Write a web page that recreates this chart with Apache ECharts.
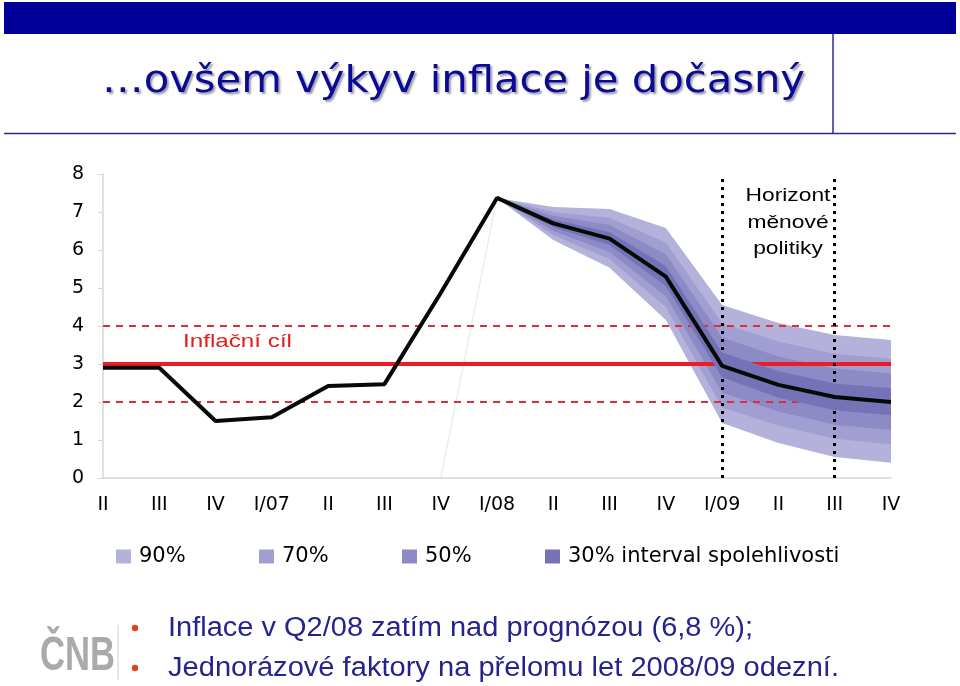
<!DOCTYPE html>
<html><head><meta charset="utf-8">
<script src="https://cdn.jsdelivr.net/npm/echarts@6/dist/echarts.min.js"></script>
<style>html,body{margin:0;padding:0;background:#fff}#c{width:960px;height:686px}</style>
</head><body><div id="c"></div>
<script>
// ---- data ----
const categories = ['II','III','IV','I/07','II','III','IV','I/08','II','III','IV','I/09','II','III','IV'];
const inflation  = [2.9, 2.9, 1.5, 1.6, 2.42, 2.47, 4.87, 7.37, 6.7, 6.3, 5.3, 2.95, 2.45, 2.13, 2.0];
const upper90 = [null,null,null,null,null,null,null, 7.37, 7.13, 7.08, 6.58, 4.55, 4.08, 3.76, 3.63];
const upper70 = [null,null,null,null,null,null,null, 7.37, 7.00, 6.85, 6.20, 4.07, 3.59, 3.27, 3.14];
const upper50 = [null,null,null,null,null,null,null, 7.37, 6.90, 6.66, 5.89, 3.70, 3.20, 2.88, 2.75];
const upper30 = [null,null,null,null,null,null,null, 7.37, 6.80, 6.47, 5.58, 3.30, 2.81, 2.49, 2.36];
const lower30 = [null,null,null,null,null,null,null, 7.37, 6.60, 6.13, 5.05, 2.65, 2.11, 1.78, 1.65];
const lower50 = [null,null,null,null,null,null,null, 7.37, 6.50, 5.95, 4.78, 2.25, 1.75, 1.40, 1.26];
const lower70 = [null,null,null,null,null,null,null, 7.37, 6.39, 5.76, 4.50, 1.85, 1.38, 1.03, 0.88];
const lower90 = [null,null,null,null,null,null,null, 7.37, 6.26, 5.53, 4.16, 1.45, 0.92, 0.55, 0.40];
const strayLine = [null,null,null,null,null,null, 0, 7.37, null,null,null,null,null,null,null];
const targetValue = 3;
const toleranceBand = [2, 4];
const horizonIdx = [11, 13];
const bandNames = ['90%', '70%', '50%', '30% interval spolehlivosti'];
const yMin = 0, yMax = 8, yStep = 1;
const titleText = '…ovšem výkyv inflace je dočasný';
const bullets = ['Inflace v Q2/08 zatím nad prognózou (6,8 %);', 'Jednorázové faktory na přelomu let 2008/09 odezní.'];
const horizonLabel = ['Horizont', 'měnové', 'politiky'];
const targetLabel = 'Inflační cíl';

// ---- helpers ----
const mctx = document.createElement('canvas').getContext('2d');
function fit(text, font, w) { mctx.font = font; return w / mctx.measureText(text).width; }
function diff(a, b) { return a.map((v, i) => (v == null || b[i] == null) ? null : +(v - b[i]).toFixed(3)); }

const bandColors = ['#b4b2db', '#a19fd2', '#8d8ac6', '#7672b7'];
const bands = [[lower90, upper90], [lower70, upper70], [lower50, upper50], [lower30, upper30]];

const series = [];
bands.forEach((b, k) => {
  series.push({
    name: 'base' + k, type: 'line', stack: 'band' + k, data: b[0], symbol: 'none', silent: true,
    lineStyle: { opacity: 0, width: 0 }, z: 2 + k
  });
  series.push({
    name: bandNames[k], type: 'line', stack: 'band' + k, data: diff(b[1], b[0]), symbol: 'none', silent: true,
    lineStyle: { opacity: 0, width: 0 }, itemStyle: { color: bandColors[k] },
    areaStyle: { color: bandColors[k], opacity: 1 }, z: 2 + k
  });
});
series.push({
  name: 'stray', type: 'line', data: strayLine, symbol: 'none', silent: true,
  lineStyle: { color: '#e4e4e4', width: 1 }, z: 1
});
series.push({
  name: 'refs', type: 'line', data: [], symbol: 'none', silent: true, z: 8,
  markLine: {
    symbol: 'none', silent: true, label: { show: false }, animation: false,
    data: [
      { yAxis: targetValue, lineStyle: { color: '#ec1c24', width: 4, type: 'solid' } },
      { yAxis: toleranceBand[0], lineStyle: { color: '#d9303c', width: 2, type: [7, 6] } },
      { yAxis: toleranceBand[1], lineStyle: { color: '#d9303c', width: 2, type: [7, 6] } },
      { xAxis: horizonIdx[0], lineStyle: { color: '#000', width: 3, type: [3, 5] } },
      { xAxis: horizonIdx[1], lineStyle: { color: '#000', width: 3, type: [3, 5] } }
    ]
  }
});
series.push({
  name: 'inflace', type: 'line', data: inflation, symbol: 'none', silent: true,
  lineStyle: { color: '#050a05', width: 4 }, z: 10
});

const legends = bandNames.map((n, k) => ({
  data: [n], left: [116, 259, 402, 545][k], top: 546, icon: 'rect', itemWidth: 15, itemHeight: 14,
  selectedMode: false, padding: 0,
  textStyle: { fontFamily: 'DejaVu Sans', fontSize: 21, color: '#000', padding: [0, 0, 0, 3] }
}));

const titleFont = '38px "DejaVu Sans"';
const bulletFont = '27px "Liberation Sans"';
const logoFont = 'bold 48px "Liberation Sans"';
const labFont = '19px "Liberation Sans"';

const graphic = [
  { type: 'rect', shape: { x: 4, y: 2, width: 952, height: 32 }, style: { fill: '#000099' }, silent: true },
  { type: 'line', shape: { x1: 833, y1: 34, x2: 833, y2: 133 }, style: { stroke: '#2a2a9a', lineWidth: 1.5 }, silent: true },
  { type: 'line', shape: { x1: 4, y1: 133.5, x2: 956, y2: 133.5 }, style: { stroke: '#2a2a9a', lineWidth: 1.5 }, silent: true },
  { type: 'text', x: 102, y: 82, scaleX: fit(titleText, titleFont, 703), silent: true,
    style: { text: titleText, font: titleFont, fill: '#0a0a96', verticalAlign: 'middle', align: 'left',
      textShadowColor: 'rgba(90,90,110,0.6)', textShadowOffsetX: 2, textShadowOffsetY: 2, textShadowBlur: 2 } },
  { type: 'text', x: 183, y: 342, scaleX: fit(targetLabel, labFont, 109), silent: true, z: 20,
    style: { text: targetLabel, font: labFont, fill: '#e0201e', verticalAlign: 'middle', align: 'left' } }
];
const hy = [196, 223, 249];
horizonLabel.forEach((t, i) => graphic.push({
  type: 'text', x: 788, y: hy[i], scaleX: 1.2, silent: true, z: 20,
  style: { text: t, font: labFont, fill: '#000', verticalAlign: 'middle', align: 'center' }
}));
// bullets
const by = [628, 668];
bullets.forEach((t, i) => {
  graphic.push({ type: 'circle', shape: { cx: 135, cy: by[i], r: 3.2 }, style: { fill: '#e8401c' }, silent: true });
  graphic.push({ type: 'text', x: 168, y: [628.5, 668.5][i], scaleX: fit(t, bulletFont, [585, 671][i]), silent: true,
    style: { text: t, font: bulletFont, fill: '#24248c', verticalAlign: 'middle', align: 'left' } });
});
// logo
graphic.push({ type: 'text', x: 40, y: 657, scaleX: fit('ČNB', logoFont, 75), silent: true,
  style: { text: 'ČNB', font: logoFont, fill: '#aaaaaa', verticalAlign: 'middle', align: 'left' } });
graphic.push({ type: 'line', shape: { x1: 118, y1: 625, x2: 118, y2: 680 }, style: { stroke: '#d0d0d0', lineWidth: 1 }, silent: true });

const chart = echarts.init(document.getElementById('c'), null, { renderer: 'canvas' });
chart.setOption({
  animation: false,
  backgroundColor: '#fff',
  grid: { left: 103, right: 69, top: 174, bottom: 208, containLabel: false },
  legend: legends,
  xAxis: {
    type: 'category', data: categories, boundaryGap: false,
    axisLine: { show: true, lineStyle: { color: '#d6d6d6', width: 1.5 } },
    axisTick: { show: false },
    axisLabel: { interval: 0, margin: 18, fontFamily: 'DejaVu Sans', fontSize: 19, color: '#000' },
    splitLine: { show: false }
  },
  yAxis: {
    type: 'value', min: yMin, max: yMax, interval: yStep,
    axisLine: { show: true, lineStyle: { color: '#d6d6d6', width: 1.5 } },
    axisTick: { show: true, length: 5, lineStyle: { color: '#d6d6d6' } },
    axisLabel: { margin: 19, fontFamily: 'DejaVu Sans', fontSize: 19, color: '#000' },
    splitLine: { show: false }
  },
  series: series,
  graphic: graphic
});
</script>
</body></html>
